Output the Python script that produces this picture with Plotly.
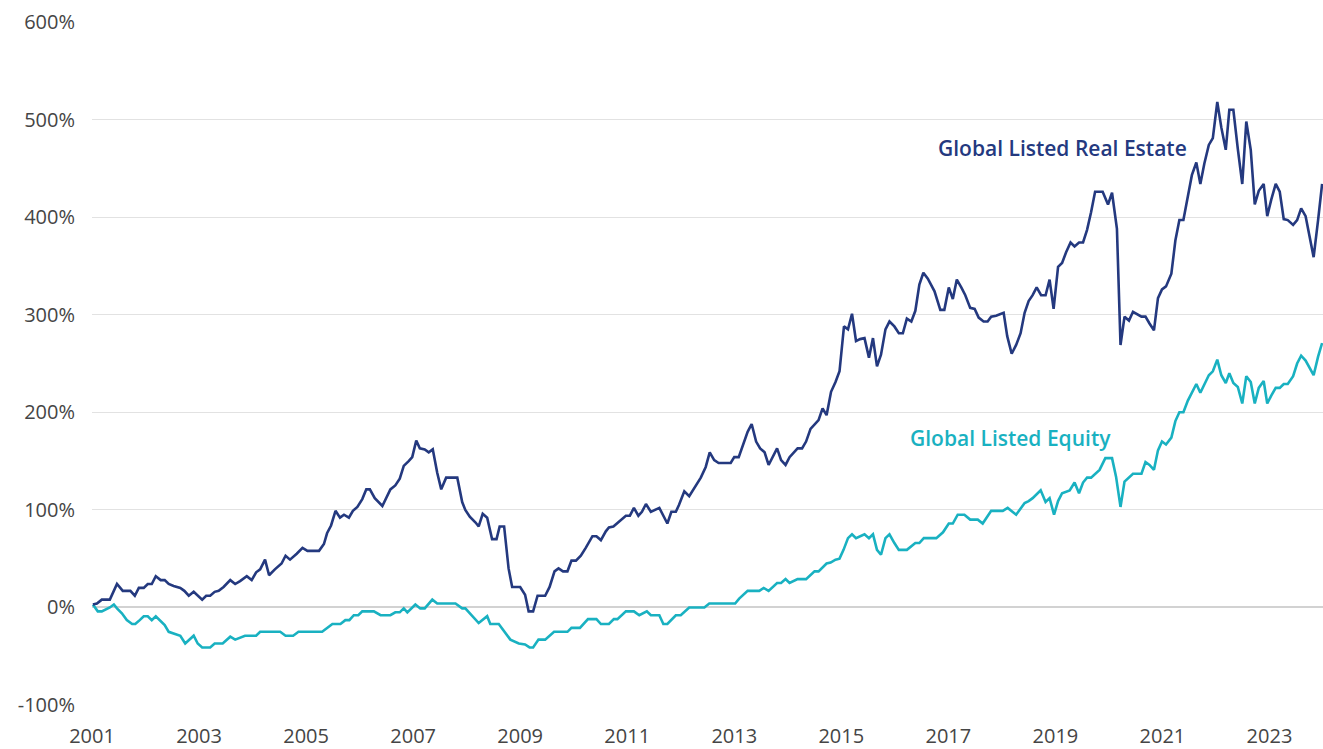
import plotly.graph_objects as go

# Cumulative total return (%). Months are counted from Jan 2001.
re_month = [
    0.2, 1.1, 2.2, 4.0, 5.6, 6.9, 8.6, 9.6, 10.5, 11.6,
    12.5, 13.4, 14.3, 15.4, 16.3, 17.2, 18.3, 19.8, 20.7, 21.7,
    22.8, 23.7, 24.7, 25.6, 26.5, 27.5, 28.4, 29.5, 31.0, 32.1,
    33.2, 34.7, 35.8, 36.8, 37.7, 38.8, 39.7, 41.0, 42.5, 43.4,
    44.4, 45.9, 47.2,
    48.3, 50.9, 52.0, 52.7, 53.6, 54.6, 55.6, 56.5, 57.6, 58.5,
    59.5, 60.6, 61.5, 62.3, 63.4, 65.1, 66.9, 68.0, 69.0, 69.9,
    71.0, 71.8, 72.7, 73.5, 74.6, 75.5, 76.4, 77.4, 78.3, 79.4,
    81.9, 83.0, 83.7, 84.7, 86.0, 86.7, 87.6, 88.6, 89.7, 90.7,
    91.4, 92.4, 93.4, 94.2, 96.0, 97.1, 97.9,
    98.9, 99.9, 101.6, 102.6, 103.7, 104.6, 105.6, 106.6, 107.5, 108.5,
    109.6, 110.7, 112.2, 113.1, 114.1, 115.2, 115.9, 116.9, 118.0, 119.7,
    120.6, 121.5, 122.5, 123.3, 124.2, 125.3, 127.2, 129.0, 129.9, 130.9,
    131.6, 132.8, 133.9, 135.8, 136.5, 137.6, 138.5, 139.5, 140.5, 143.2,
    144.0, 145.0, 146.0, 147.0, 147.9, 148.9, 149.8, 150.8, 151.7, 152.6,
    153.6, 154.5, 155.5, 156.4, 157.5, 158.2, 159.2, 160.1, 161.1, 162.0,
    162.9, 163.8, 164.7, 165.7, 166.7, 167.6, 168.6, 169.5, 170.4, 171.3,
    172.2, 173.2, 174.2, 175.1, 176.0, 176.9, 177.9, 178.8, 179.9, 180.9,
    181.8, 182.7, 183.7, 184.6, 185.5, 186.4, 187.4, 188.9, 190.2, 191.1,
    192.1, 193.0, 193.9, 194.9, 195.8, 196.9, 197.9, 198.8, 199.9, 200.8,
    201.6, 202.7, 204.4, 205.2, 206.2, 207.2, 208.2, 209.1, 210.0, 210.9,
    211.8, 212.8, 213.8, 214.7, 215.6, 216.6, 217.5, 218.4, 219.4, 220.3,
    221.3, 222.2, 223.1, 224.0, 224.9, 226.6, 227.8, 228.7, 229.8, 230.6,
    231.5, 232.5, 233.4, 235.3, 236.2,
    237.1, 238.1, 239.0, 239.9, 240.8, 242.0, 242.9, 243.8, 244.7, 245.7,
    246.6, 247.6, 248.5, 249.4, 250.4, 251.3, 252.3, 253.2, 254.2, 255.0,
    255.9, 256.9, 257.9, 258.8, 259.8, 260.7, 261.6, 262.7, 263.5, 264.4,
    265.4, 266.3, 267.2, 268.1, 269.3, 270.2, 271.1, 272.1, 273.0, 273.9,
    274.9, 275.8,
]
re_value = [
    3, 4, 8, 8, 24, 17, 17, 12, 20, 20,
    24, 24, 32, 28, 28, 24, 22, 20, 17, 12,
    16, 12, 8, 12, 12, 16, 17, 21, 28, 24,
    27, 32, 28, 36, 39, 49, 33, 39, 45, 53,
    49, 55, 61,
    58, 58, 65, 76, 84, 99, 92, 95, 92, 99,
    103, 111, 121, 121, 112, 104, 121, 125, 132, 145,
    150, 154, 171, 163, 162, 159, 162, 138, 121, 133,
    133, 108, 100, 93, 87, 83, 96, 92, 70, 70,
    83, 83, 40, 21, 21, 13, -4,
    -4, 12, 12, 21, 37, 40, 37, 37, 48, 48,
    53, 61, 73, 73, 69, 78, 82, 83, 87, 94,
    94, 102, 94, 98, 106, 98, 102, 86, 98, 98,
    105, 119, 114, 129, 133, 144, 159, 151, 148, 148,
    154, 154, 166, 180, 188, 170, 163, 159, 146, 154,
    163, 151, 146, 154, 159, 163, 163, 170, 183, 187,
    192, 204, 197, 221, 231, 242, 288, 285, 301, 273,
    275, 276, 256, 276, 247, 259, 285, 293, 288, 281,
    281, 296, 293, 304, 331, 343, 337, 324, 305, 305,
    328, 316, 336, 328, 320, 307, 306, 297, 293, 293,
    298, 299, 302, 278, 260, 269, 281, 302, 314, 320,
    328, 320, 320, 336, 306, 349, 353, 364, 374, 370,
    374, 374, 387, 405, 426, 426, 413, 425, 388, 269,
    298, 294, 303, 298, 298,
    291, 284, 317, 326, 329, 342, 376, 397, 397, 420,
    443, 456, 434, 455, 474, 481, 518, 492, 469, 510,
    510, 470, 434, 498, 469, 413, 427, 434, 401, 418,
    434, 426, 398, 397, 392, 397, 409, 401, 380, 359,
    397, 434,
]

eq_month = [
    0.2, 1.3, 2.2, 4.0, 4.9, 5.6, 6.7, 7.8, 9.0, 9.7,
    10.7, 11.6, 12.5, 13.4, 14.3, 15.3, 16.3, 17.2, 18.3, 19.8,
    20.9, 21.9, 22.8, 23.7, 24.7, 26.5, 27.5, 29.3, 31.0, 32.1,
    33.2, 34.3, 36.8, 37.7, 42.2, 43.4, 45.1, 46.3,
    51.6, 53.9, 55.7, 56.8, 57.7, 58.7, 59.7, 60.6, 63.2, 64.7,
    66.9, 68.0, 69.0, 69.9, 70.7, 72.5, 73.6, 74.6, 76.3, 77.4,
    81.5, 83.0, 83.7, 85.2, 86.7, 88.6, 89.3, 91.2, 91.9, 93.8,
    95.7, 97.1,
    98.1, 98.9, 100.1, 101.6, 103.6, 106.6, 107.5, 109.4, 111.2, 113.1,
    114.1, 115.9, 117.0, 117.8, 119.7, 121.5, 122.7, 124.4, 125.3, 127.2,
    128.1, 129.0, 130.9, 132.0, 133.9, 137.3, 138.4, 143.6,
    144.2, 145.1, 147.0, 149.6, 150.6, 151.7, 153.6, 154.5, 155.5, 156.4,
    158.2, 160.1, 162.0, 162.9, 164.7, 165.6, 166.7, 167.6, 168.5, 169.5,
    170.4, 171.3, 173.2, 174.2, 175.1, 176.0, 176.9, 177.9, 178.8, 179.9,
    180.9, 182.7, 183.7, 184.6, 185.5, 186.5, 189.3, 190.8,
    192.1, 193.0, 194.1, 195.6, 196.9, 198.6, 199.7, 201.6, 204.2, 205.3,
    207.2, 209.1, 210.0, 210.9, 212.7, 213.8, 214.7, 215.7, 216.6, 217.5,
    219.2, 220.3, 221.3, 222.2, 223.1, 224.0, 225.9, 227.2, 228.7, 229.6,
    230.6, 231.5, 233.4, 235.3, 236.2,
    237.1, 238.1, 239.0, 239.9, 240.8, 242.0, 242.9, 243.8, 244.7, 245.7,
    246.6, 247.6, 248.5, 249.4, 250.4, 251.3, 252.3, 253.2, 254.2, 255.0,
    255.9, 256.9, 257.9, 258.8, 259.8, 260.7, 261.6, 262.7, 263.5, 264.4,
    265.4, 266.3, 267.2, 268.1, 269.3, 270.2, 271.1, 272.1, 273.0, 273.9,
    274.9, 275.8,
]
eq_value = [
    3, -4, -4, 0, 3, -1, -6, -13, -17, -17,
    -13, -9, -9, -13, -9, -13, -18, -25, -27, -29,
    -37, -33, -29, -37, -41, -41, -37, -37, -30, -33,
    -31, -29, -29, -25, -25, -29, -29, -25,
    -25, -17, -17, -13, -13, -8, -8, -4, -4, -8,
    -8, -5, -5, -1, -5, 3, -1, -1, 8, 4,
    4, -1, -1, -8, -16, -9, -17, -17, -21, -33,
    -37, -38,
    -41, -41, -33, -33, -25, -25, -21, -21, -12, -12,
    -17, -17, -12, -12, -4, -4, -8, -4, -8, -8,
    -17, -17, -8, -8, 0, 0, 4, 4,
    4, 9, 17, 17, 20, 17, 25, 25, 29, 25,
    29, 29, 37, 37, 45, 46, 49, 50, 59, 71,
    75, 71, 75, 71, 75, 59, 54, 71, 75, 66,
    59, 59, 63, 66, 66, 71, 71, 77,
    86, 86, 95, 95, 90, 90, 86, 99, 99, 102,
    95, 107, 109, 112, 120, 108, 112, 95, 109, 117,
    120, 128, 117, 128, 133, 133, 141, 153, 153, 134,
    103, 129, 137, 137, 149,
    146, 141, 161, 170, 167, 174, 191, 200, 200, 212,
    220, 229, 220, 229, 238, 242, 254, 238, 230, 240,
    230, 226, 209, 237, 231, 209, 225, 232, 209, 217,
    225, 225, 229, 229, 237, 250, 258, 253, 245, 238,
    257, 271,
]

year_ticks = list(range(2001, 2024, 2))
pct_ticks = [-100, 0, 100, 200, 300, 400, 500, 600]

NAVY = "#24397f"
TEAL = "#19b1c1"
FONT = "Open Sans"
TICK_FONT = {"size": 20, "color": "#454545"}

assert len(re_month) == len(re_value)
assert len(eq_month) == len(eq_value)

fig = go.Figure()
fig.add_trace(
    go.Scatter(
        x=[2001 + m / 12 for m in eq_month],
        y=eq_value,
        mode="lines",
        name="Global Listed Equity",
        line={"color": TEAL, "width": 2.6},
    )
)
fig.add_trace(
    go.Scatter(
        x=[2001 + m / 12 for m in re_month],
        y=re_value,
        mode="lines",
        name="Global Listed Real Estate",
        line={"color": NAVY, "width": 2.6},
    )
)

fig.add_annotation(
    x=2019.14, y=471, text="Global Listed Real Estate", showarrow=False,
    font={"family": FONT, "size": 21, "color": NAVY, "weight": 600},
)
fig.add_annotation(
    x=2018.17, y=174, text="Global Listed Equity", showarrow=False,
    font={"family": FONT, "size": 21, "color": TEAL, "weight": 600},
)

fig.update_layout(
    width=1323,
    height=749,
    showlegend=False,
    plot_bgcolor="white",
    paper_bgcolor="white",
    margin={"l": 92, "r": 0, "t": 22, "b": 44},
    font={"family": FONT, "color": "#454545"},
    xaxis={
        "range": [2001, 2024.0],
        "tickvals": year_ticks,
        "ticktext": [str(y) for y in year_ticks],
        "showgrid": False,
        "zeroline": False,
        "showline": False,
        "ticks": "outside",
        "ticklen": 13,
        "tickcolor": "rgba(0,0,0,0)",
        "tickfont": TICK_FONT,
    },
    yaxis={
        "range": [-100, 600],
        "tickvals": pct_ticks,
        "ticktext": [f"{v}%" for v in pct_ticks],
        "showgrid": True,
        "gridcolor": "#e2e2e2",
        "gridwidth": 1,
        "zeroline": True,
        "zerolinecolor": "#d2d2d2",
        "zerolinewidth": 2,
        "showline": False,
        "ticks": "outside",
        "ticklen": 12,
        "tickcolor": "rgba(0,0,0,0)",
        "tickfont": TICK_FONT,
    },
)

fig.write_html(
    "out.html",
    config={"displayModeBar": False},
    post_script="document.body.style.margin='0';",
)
